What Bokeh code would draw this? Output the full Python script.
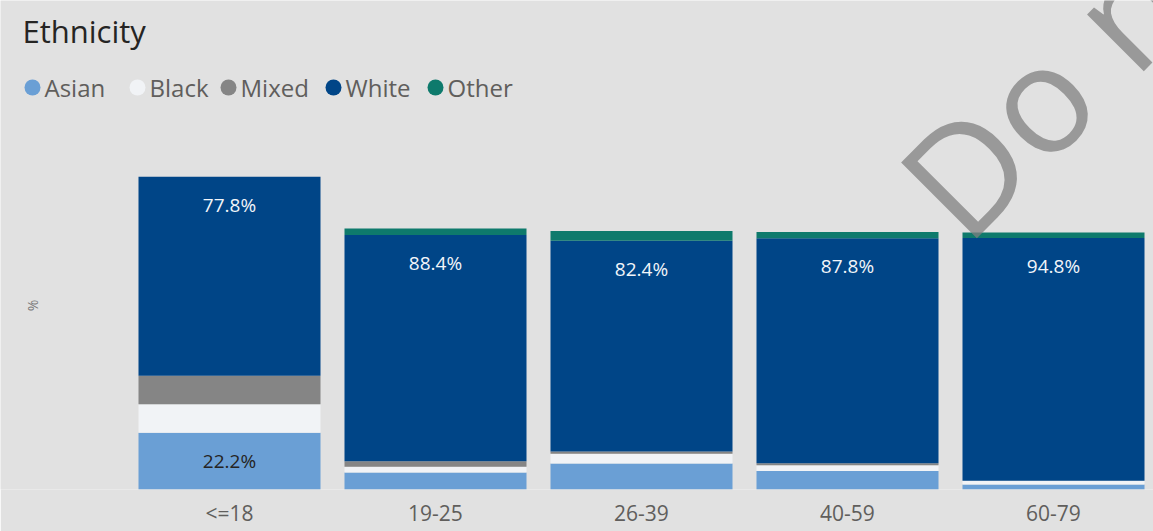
import math
from bokeh.plotting import figure
from bokeh.models import Range1d, FixedTicker, Label, ColumnDataSource
from bokeh.core.properties import value
from bokeh.embed import file_html
from bokeh.resources import INLINE

# ---------------- data ----------------
age_groups = ["<=18", "19-25", "26-39", "40-59", "60-79"]
ethnicities = ["Asian", "Black", "Mixed", "White", "Other"]
asian = [22.2, 6.6, 10.2, 7.2, 2.0]
black = [11.1, 2.3, 3.8, 2.3, 1.4]
mixed = [11.1, 2.1, 0.8, 0.8, 0.0]
white = [77.8, 88.4, 82.4, 87.8, 94.8]
other = [0.0, 2.6, 3.8, 2.5, 2.2]
asian_labels = ["22.2%", "", "", "", ""]
white_labels = ["77.8%", "88.4%", "82.4%", "87.8%", "94.8%"]
colors = ["#6a9fd5", "#f1f3f6", "#858585", "#004587", "#0e7a6c"]

# ---------------- layout ----------------
BG = "#e1e1e1"
W, H = 1153, 531
CAT_PX = 206.0
FIRST_C = 229.0
FRAME_B = 489.0
UNIT_PX = 2.56
FONT = "Open Sans"


def dx(px):
    return (px - FIRST_C) / CAT_PX


def dy(py):
    return (FRAME_B - py) / UNIT_PX


idx = list(range(len(age_groups)))
asian_top = [a for a in asian]
white_top = [a + b + m + w for a, b, m, w in zip(asian, black, mixed, white)]

source = ColumnDataSource(dict(
    x=idx, Asian=asian, Black=black, Mixed=mixed, White=white, Other=other,
    asian_top=asian_top, white_top=white_top,
    asian_label=asian_labels, white_label=white_labels,
))

p = figure(width=W, height=H,
           x_range=Range1d(-FIRST_C / CAT_PX, (W - FIRST_C) / CAT_PX),
           y_range=Range1d(0, FRAME_B / UNIT_PX),
           output_backend="svg", toolbar_location=None, y_axis_location=None,
           min_border_left=0, min_border_right=0, min_border_top=0,
           min_border_bottom=int(H - FRAME_B),
           background_fill_color=BG, border_fill_color=BG,
           outline_line_color=None)
p.grid.visible = False

p.vbar_stack(ethnicities, x="x", width=182 / CAT_PX, color=colors,
             line_color=None, source=source)

p.text(x="x", y="white_top", text="white_label", source=source, y_offset=28,
       text_align="center", text_baseline="middle", text_color="#f2f5fa",
       text_font=value(FONT), text_font_size="19px")
p.text(x="x", y="asian_top", text="asian_label", source=source, y_offset=28,
       text_align="center", text_baseline="middle", text_color="#252423",
       text_font=value(FONT), text_font_size="19px")

# x axis
ax = p.xaxis[0]
ax.ticker = FixedTicker(ticks=idx)
ax.major_label_overrides = {i: lab for i, lab in zip(idx, age_groups)}
ax.axis_line_color = None
ax.major_tick_line_color = None
ax.minor_tick_line_color = None
ax.major_tick_out = 0
ax.major_tick_in = 0
ax.major_label_standoff = 9
ax.major_label_text_font = FONT
ax.major_label_text_font_size = "21px"
ax.major_label_text_color = "#605e5c"

# title
p.add_layout(Label(x=dx(22), y=dy(30), text="Ethnicity", text_font=FONT,
                   text_font_size="31px", text_color="#252423",
                   text_baseline="middle"))

# legend (manual, circles + names)
leg_cx = [32, 137, 228, 333, 435]
p.scatter(x=[dx(c) for c in leg_cx], y=[dy(87)] * 5, marker="circle", size=16,
          color=colors, line_color=None)
p.text(x=[dx(c + 12) for c in leg_cx], y=[dy(87)] * 5, text=ethnicities,
       text_align="left", text_baseline="middle", text_color="#605e5c",
       text_font=value(FONT), text_font_size="24px")

# y axis title
p.add_layout(Label(x=dx(32), y=dy(305), text="%", angle=math.pi / 2,
                   text_align="center", text_baseline="middle",
                   text_font=FONT, text_font_size="14px", text_color="#777777"))

# watermark
p.text(x=[dx(925)], y=[dy(207)], text=["Do not copy"], angle=math.pi / 4,
       text_align="left", text_baseline="middle", text_color="#808080",
       text_alpha=0.75, text_font=value(FONT), text_font_size="150px")

open("out.html", "w").write(file_html(p, INLINE))
